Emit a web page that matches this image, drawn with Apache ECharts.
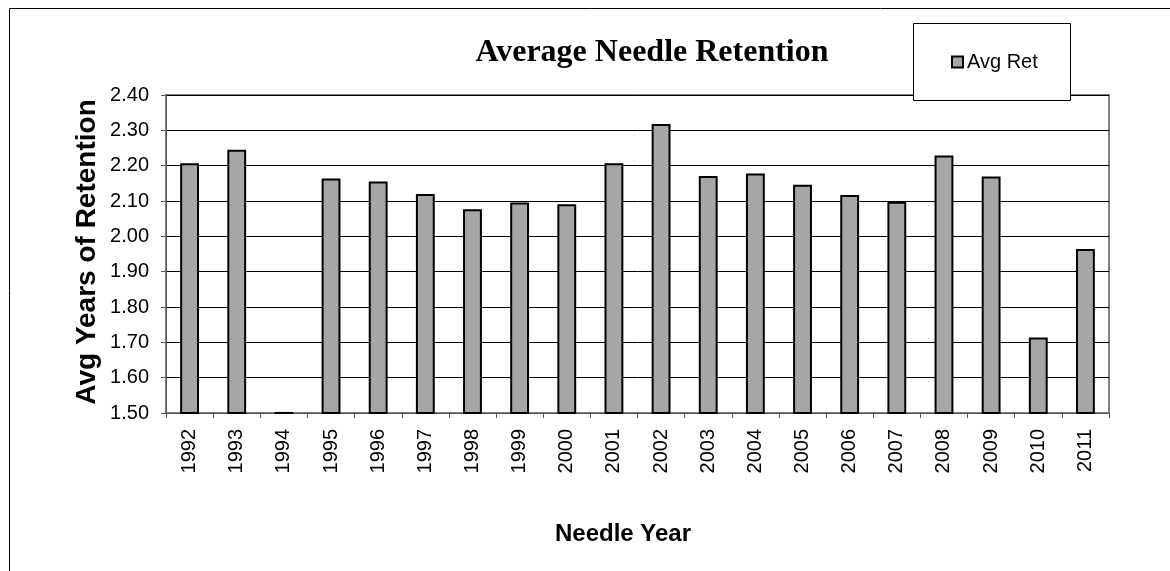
<!DOCTYPE html>
<html>
<head>
<meta charset="utf-8">
<script src="https://cdn.jsdelivr.net/npm/echarts@6/dist/echarts.min.js"></script>
<style>
html,body{margin:0;padding:0;background:#fff;}
#chart{width:1170px;height:571px;}
</style>
</head>
<body>
<div id="chart"></div>
<script>
var years = ['1992','1993','1994','1995','1996','1997','1998','1999','2000','2001','2002','2003','2004','2005','2006','2007','2008','2009','2010','2011'];
var avgRet = [2.207,2.245,1.503,2.164,2.155,2.120,2.077,2.096,2.091,2.207,2.318,2.171,2.178,2.146,2.117,2.098,2.229,2.169,1.714,1.964];
var yTicks = ['1.50','1.60','1.70','1.80','1.90','2.00','2.10','2.20','2.30','2.40'];

var chart = echarts.init(document.getElementById('chart'), null, {renderer:'canvas'});
var option = {
  animation: false,
  backgroundColor: '#fff',
  grid: {
    left: 166, right: 61, top: 95, bottom: 158,
    show: true, borderColor: '#808080', borderWidth: 2, backgroundColor: 'transparent'
  },
  legend: {
    show: true,
    left: 951, top: 52,
    padding: 0,
    z: 20,
    itemWidth: 11, itemHeight: 11, itemGap: 6,
    icon: 'rect',
    textStyle: {fontFamily: 'Liberation Sans, Arial', fontSize: 20, color: '#000', padding: [0,0,0,-1]},
    itemStyle: {color: '#a6a6a6', borderColor: '#000', borderWidth: 2},
    data: ['Avg Ret']
  },
  xAxis: {
    type: 'category',
    data: years,
    boundaryGap: true,
    axisLine: {show: true, lineStyle: {color: '#555', width: 1}},
    axisTick: {show: true, length: 5, lineStyle: {color: '#555'}},
    axisLabel: {rotate: 90, margin: 16, fontFamily: 'Liberation Sans, Arial', fontSize: 20, color: '#000'},
    splitLine: {show: false}
  },
  yAxis: {
    type: 'value',
    min: 1.5, max: 2.4, interval: 0.1,
    axisLine: {show: true, lineStyle: {color: '#555', width: 1}},
    axisTick: {show: true, inside: false, length: 5, lineStyle: {color: '#555'}},
    axisLabel: {
      margin: 17, fontFamily: 'Liberation Sans, Arial', fontSize: 20, color: '#000',
      formatter: function (v) {
        var i = Math.round((v - 1.5) / 0.1);
        return yTicks[i] !== undefined ? yTicks[i] : v.toFixed(2);
      }
    },
    splitLine: {show: true, lineStyle: {color: '#000', width: 1}}
  },
  series: [{
    name: 'Avg Ret',
    type: 'bar',
    data: avgRet,
    barWidth: '40%',
    itemStyle: {color: '#a6a6a6', borderColor: '#000', borderWidth: 2},
    emphasis: {disabled: true}
  }],
  graphic: [
    {type: 'rect', z: 0, silent: true,
     shape: {x: 9.5, y: 8.5, width: 1300, height: 700},
     style: {fill: 'none', stroke: '#000', lineWidth: 1}},
    {type: 'text', z: 5, silent: true, x: 652, y: 53,
     style: {text: 'Average Needle Retention', x: 0, y: 0, align: 'center', verticalAlign: 'middle',
             font: 'bold 32px "Liberation Serif", "Times New Roman", serif', fill: '#000'}},
    {type: 'rect', z: 10, silent: true,
     shape: {x: 913.5, y: 23.5, width: 157, height: 77},
     style: {fill: '#fff', stroke: '#000', lineWidth: 1}},
    {type: 'text', z: 5, silent: true, x: 623, y: 534,
     style: {text: 'Needle Year', x: 0, y: 0, align: 'center', verticalAlign: 'middle',
             font: 'bold 24px "Liberation Sans", Arial, sans-serif', fill: '#000'}},
    {type: 'text', z: 5, silent: true, x: 87, y: 252, rotation: Math.PI / 2,
     style: {text: 'Avg Years of Retention', x: 0, y: 0, align: 'center', verticalAlign: 'middle',
             font: 'bold 28px "Liberation Sans", Arial, sans-serif', fill: '#000'}}
  ]
};
chart.setOption(option);
</script>
</body>
</html>
